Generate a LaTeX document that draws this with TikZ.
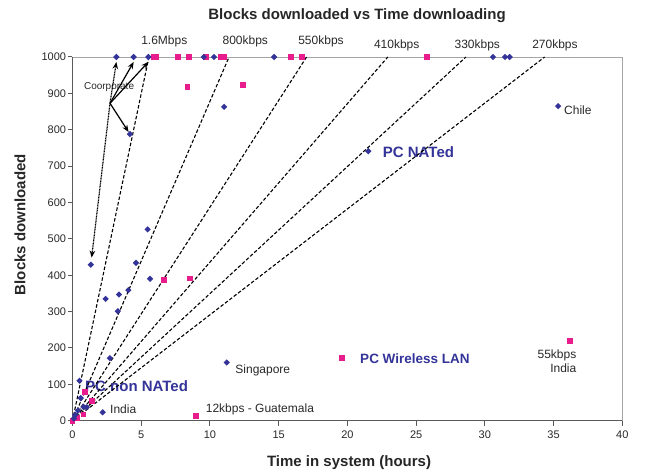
\documentclass[tikz,border=0pt]{standalone}
\usepackage{fontspec}
\setmainfont{Liberation Sans}
\usepackage{xcolor}
\usetikzlibrary{shapes.geometric, arrows.meta, positioning}

\definecolor{xlblue}{RGB}{51,51,153}
\definecolor{xlpink}{RGB}{232,28,140}
\definecolor{axisgray}{RGB}{90,90,90}
\definecolor{framegray}{RGB}{165,165,165}
\definecolor{txtgray}{RGB}{40,40,40}

\begin{document}
\begin{tikzpicture}[
    x=13.745pt, y=0.3637pt,
    bmark/.style={diamond, fill=xlblue, inner sep=0pt, minimum size=6.5pt},
    pmark/.style={rectangle, fill=xlpink, inner sep=0pt, minimum size=5.8pt},
    rate/.style={dash pattern=on 3.5pt off 2pt, line width=1.1pt},
    corparrow/.style={line width=1.2pt,-{Stealth[length=7pt,width=5.5pt]}},
    ticklbl/.style={font=\fontsize{11}{13}\selectfont, text=txtgray, inner sep=0pt},
    lbl/.style={font=\fontsize{12}{13.4}\selectfont, text=txtgray, inner sep=0pt},
    series/.style={font=\bfseries\fontsize{15}{17}\selectfont, text=xlblue, inner sep=0pt},
    heading/.style={font=\bfseries\fontsize{15}{17}\selectfont, text=black!85, inner sep=0pt}
]
\useasboundingbox (-72.5pt,-52.3pt) rectangle (573.5pt,420.7pt);

% Titles
\node (title) [heading] at (20.70,1115) {Blocks downloaded vs Time downloading};
\node (xlabel) [heading] at (20.12,-114) {Time in system (hours)};
\node (ylabel) [heading, rotate=90] at (-3.82,539) {Blocks downloaded};

% Frame and axes
\draw [framegray, line width=0.8pt] (0,1000) -- (40,1000) -- (40,0);
\draw [axisgray, line width=1.2pt] (0,1000) -- (0,0) -- (40,0);
\foreach \t in {0,5,...,40}
    \draw [axisgray, line width=1pt] (\t,0) -- ++(0,-5pt)
        node (xt\t) [ticklbl, anchor=north, yshift=-5pt] {\t};
\foreach \v in {0,100,...,1000}
    \draw [axisgray, line width=1pt] (0,\v) -- ++(-4.5pt,0)
        node (yt\v) [ticklbl, anchor=east, xshift=-1.5pt] {\v};

% Labels
\node (l16) [lbl] at (6.68,1044) {1.6Mbps};
\node (l800) [lbl] at (12.57,1044) {800kbps};
\node (l550) [lbl] at (18.08,1042.6) {550kbps};
\node (l410) [lbl] at (23.59,1031) {410kbps};
\node (l330) [lbl] at (29.45,1031) {330kbps};
\node (l270) [lbl] at (35.10,1031) {270kbps};
\node (corplbl) [lbl, font=\fontsize{10}{12}\selectfont] at (2.66,916.7) {Coorporate};
\node (chilelbl) [lbl, anchor=west] at (35.76,854) {Chile};
\node (singlbl) [lbl, anchor=west] at (11.84,137.5) {Singapore};
\node (indlbl) [lbl, anchor=west] at (2.73,31.3) {India};
\node (guatlbl) [lbl, anchor=west] at (9.69,31.3) {12kbps - Guatemala};
\node (ind55lbl) [lbl, anchor=east, align=right] at (36.67,164) {55kbps\\India};
\node (natlbl) [series, anchor=west] at (22.57,738) {PC NATed};
\node (nonnatlbl) [series, anchor=west] at (0.91,95.4) {PC non NATed};
\node (wlanlbl) [series, anchor=west, font=\bfseries\fontsize{13.5}{16}\selectfont] at (20.92,169.6) {PC Wireless LAN};

% Rate lines
\coordinate (origin) at (0,0);
\foreach \e [count=\i] in {5.56,11.39,17.03,22.94,28.62,34.35} {
    \coordinate (r\i) at (\e,1000);
    \draw [rate] (origin) -- (r\i);
}

% Markers
\foreach \px/\py [count=\i] in {5.93/1000, 6.1/1000, 7.67/1000, 8.45/1000, 9.74/1000,
    10.77/1000, 11.06/1000, 15.87/1000, 16.71/1000, 25.82/1000, 8.36/918, 12.41/923,
    6.66/387, 8.55/391, 0.9/78, 1.42/54, 0.8/17, 8.99/12, 19.58/173, 36.2/220, 0/0, 0.3/8}
    \node (p\i) [pmark] at (\px,\py) {};
\foreach \px/\py [count=\i] in {9.55/1000, 10.3/1000, 14.67/1000, 30.59/1000, 31.47/1000,
    31.8/1000, 11.03/863, 21.52/741, 5.47/526, 4.62/434, 5.64/390, 4.06/359, 3.38/347,
    2.41/335, 3.30/301, 2.72/172, 0.51/110, 0.6/62, 0.8/38, 1.04/37, 0.4/28, 0.2/16,
    0.1/6, 11.22/160, 2.2/23}
    \node (b\i) [bmark] at (\px,\py) {};
\node (corpa) [bmark] at (3.19,1000) {};
\node (corpb) [bmark] at (4.45,1000) {};
\node (corpc) [bmark] at (5.52,1000) {};
\node (corpd) [bmark] at (4.18,788) {};
\node (corpe) [bmark] at (1.33,429) {};
\node (chile) [bmark] at (35.33,865) {};

% Arrows
\coordinate (corpjoin) at (2.73,872.7);
\draw [corparrow, dash pattern=on 1pt off 0.6pt] (corpjoin) -- ([yshift=-1.5pt]corpa.south);
\draw [corparrow] (corpjoin) -- ([yshift=-1.5pt]corpb.south);
\draw [corparrow] (corpjoin) -- ([yshift=-1.5pt]corpc.south);
\draw [corparrow] (corpjoin) -- (corpd);
\draw [corparrow, dash pattern=on 1pt off 0.6pt, shorten >=4pt] (corpjoin) -- (corpe);

\end{tikzpicture}
\end{document}
